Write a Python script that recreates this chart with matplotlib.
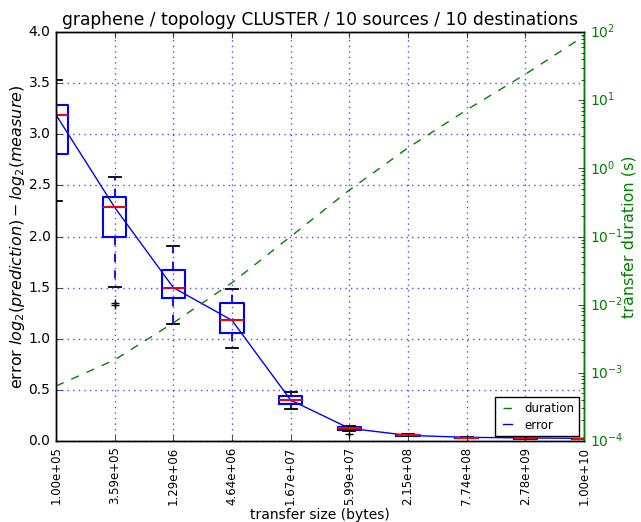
import matplotlib
matplotlib.use("Agg")
import matplotlib.pyplot as plt

plt.style.use("classic")
plt.rcParams["figure.facecolor"] = "white"
plt.rcParams["savefig.facecolor"] = "white"
plt.rcParams["mathtext.fontset"] = "dejavusans"
plt.rcParams["font.family"] = "DejaVu Sans"
plt.rcParams["font.size"] = 10

SIZES = ["1.00e+05", "3.59e+05", "1.29e+06", "4.64e+06", "1.67e+07",
         "5.99e+07", "2.15e+08", "7.74e+08", "2.78e+09", "1.00e+10"]

# per-size box statistics of the error
Q1     = [2.81, 2.00, 1.395, 1.06, 0.36, 0.11, 0.050, 0.028, 0.022, 0.018]
MED    = [3.19, 2.285, 1.50, 1.18, 0.40, 0.125, 0.055, 0.031, 0.025, 0.020]
Q3     = [3.29, 2.39, 1.67, 1.347, 0.44, 0.14, 0.060, 0.034, 0.028, 0.022]
WHISLO = [2.35, 1.51, 1.144, 0.913, 0.31, 0.10, 0.045, 0.025, 0.020, 0.016]
WHISHI = [3.53, 2.58, 1.91, 1.487, 0.48, 0.15, 0.065, 0.037, 0.030, 0.024]
FLIERS = [[], [1.35, 1.33], [], [], [], [0.07], [], [], [], []]

ERROR    = [3.19, 2.285, 1.50, 1.18, 0.40, 0.124, 0.055, 0.036, 0.030, 0.026]
DURATION = [6.4e-4, 1.55e-3, 5.4e-3, 2.1e-2, 0.1, 0.48, 2.0, 7.2, 24, 87]

fig = plt.figure(figsize=(6.41, 5.22), dpi=100)
ax = fig.add_axes([56/641, 1-441/522, (584-56)/641, (441-32)/522])
pos = list(range(len(SIZES)))

stats = []
for i in pos:
    stats.append(dict(med=MED[i], q1=Q1[i], q3=Q3[i], whislo=WHISLO[i],
                      whishi=WHISHI[i], fliers=FLIERS[i]))
ax.bxp(stats, positions=pos, widths=0.4, showfliers=True,
       boxprops=dict(color="b", lw=1.5), medianprops=dict(color="r", lw=1.5),
       whiskerprops=dict(color="b", ls="--", lw=1.3), capprops=dict(color="k", lw=1.3))
l_err, = ax.plot(pos, ERROR, "b-", lw=1)

ax.set_xlim(0, 9)
ax.set_ylim(0, 4)
ax.set_xticks(pos)
ax.set_xticklabels(SIZES, rotation=90, fontsize=8.5)
ax.set_yticks([0, 0.5, 1, 1.5, 2, 2.5, 3, 3.5, 4])
ax.set_yticklabels(["0.0", "0.5", "1.0", "1.5", "2.0", "2.5", "3.0", "3.5", "4.0"])
ax.grid(True, color="b", linestyle=":", lw=1, alpha=0.7)
ax.set_xlabel("transfer size (bytes)", fontsize=10, labelpad=2)
ax.set_ylabel(r"error $log_2(prediction) - log_2(measure)$", fontsize=11.5, labelpad=1)
ax.set_title("graphene / topology CLUSTER / 10 sources / 10 destinations", fontsize=12.35)

ax2 = ax.twinx()
l_dur, = ax2.plot(pos, DURATION, "g--", lw=1)
ax2.set_yscale("log")
ax2.set_ylim(1e-4, 1e2)
ax2.set_xlim(0, 9)
ax2.set_ylabel("transfer duration (s)", color="g", fontsize=11.5, labelpad=-1)
for lb in ax2.get_yticklabels():
    lb.set_color("g")
ax2.spines["right"].set_color("g")

ax2.legend([l_dur, l_err], ["duration", "error"], loc="lower right",
           fontsize=8.5, borderaxespad=0.4, handlelength=1.3, labelspacing=0.3)

fig.savefig("out.png", dpi=100)
